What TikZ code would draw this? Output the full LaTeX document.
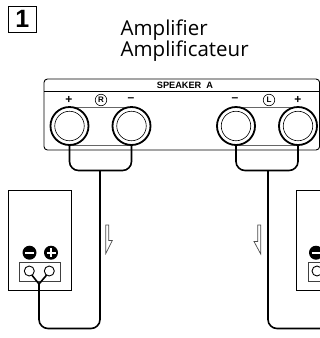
\documentclass[tikz,border=0pt]{standalone}
\usepackage{fontspec}
\setmainfont{Liberation Sans}
\newfontfamily\titlefont{Open Sans}
\tikzset{
 px/.style={x=1pt,y=-1pt},
 panel/.style={draw=black,line width=0.9pt,rounded corners=3.5pt},
 greyline/.style={draw=black!60,line width=1pt},
 cable/.style={draw=black,line width=1.6pt,line join=round,rounded corners=9pt},
 branch/.style={draw=black,line width=1.6pt},
 postouter/.style={circle,draw=black,fill=white,line width=1.8pt,minimum size=38pt,inner sep=0pt},
 postinner/.style={circle,draw=black,line width=0.6pt,minimum size=29.5pt,inner sep=0pt},
 plussign/.style={font=\bfseries\fontsize{12}{12}\selectfont,inner sep=0pt},
 ringlabel/.style={circle,draw=black,line width=0.6pt,minimum size=11.5pt,inner sep=0pt,font=\bfseries\fontsize{8}{8}\selectfont},
 termhole/.style={circle,draw=black,fill=white,line width=0.9pt,minimum size=10pt,inner sep=0pt},
 flow/.style={draw=black!70,line width=0.7pt,fill=white,line join=miter},
 title/.style={font=\titlefont\fontsize{20.5}{20.5}\selectfont,inner sep=0pt,anchor=base west},
 polarity/.style={circle,fill=black,minimum size=14pt,inner sep=0pt},
 speaker/.style={draw=black,line width=1.1pt,minimum width=63pt,minimum height=100.5pt,inner sep=0pt,anchor=north west},
 terminal/.style={draw=black!75,line width=0.9pt,minimum width=40.5pt,minimum height=19.5pt,inner sep=0pt,anchor=north west},
 markwhite/.style={draw=white,line width=2pt},
}
\begin{document}
\begin{tikzpicture}[px]
\useasboundingbox (0,0) rectangle (320,338);
\node[draw=black,line width=0.9pt,minimum width=28pt,minimum height=26pt,inner sep=0pt,font=\bfseries\fontsize{25}{25}\selectfont] (num) at (22.3,19.3) {1};
\node[title] (t1) at (120.5,35) {Amplifier};
\node[title] (t2) at (120.5,56) {Amplificateur};
% panel
\draw[panel] (44,150) -- (44,79) -- (319.6,79) -- (319.6,150) -- cycle;
\draw[panel] (44,91) -- (320,91);
\node[font=\bfseries\fontsize{9.2}{9.2}\selectfont,inner sep=0pt] (sp) at (185,85) {SPEAKER\ \ A};
\draw[greyline] (70,107.5) -- (132,107.5) (236,107.5) -- (298,107.5);
\draw[greyline] (70,145) -- (132,145) (236,145) -- (298,145);
\foreach \n/\x in {a/69.5,b/131.5,c/236,d/298}{
  \node[postouter] (\n o) at (\x,126) {};
  \node[postinner] (\n i) at (\x,126) {};
}
\node[plussign] (pa) at (69,100) {+};
\node[plussign] (ma) at (131,99.5) {–};
\node[plussign] (mb) at (235,99.5) {–};
\node[plussign] (pb) at (298,100) {+};
\node[ringlabel] (rr) at (101,100) {R};
\node[ringlabel] (rl) at (269,100) {L};
% left speaker
\node[speaker] (spk1) at (8,189.8) {};
\node[terminal] (tb1) at (19.2,261.8) {};
\node[polarity] (n1) at (29.5,252.7) {};
\node[polarity] (p1) at (51,252.7) {};
\draw[markwhite] (25,252.7) -- (34,252.7);
\draw[markwhite] (46.5,252.7) -- (55.5,252.7) (51,248.2) -- (51,257.2);
% right speaker
\node[speaker] (spk2) at (296.3,189.8) {};
\node[terminal] (tb2) at (307.5,261.8) {};
\node[polarity] (n2) at (316,252.7) {};
\draw[markwhite] (311.5,252.7) -- (320.5,252.7);
% cables
\coordinate (j1) at (39,284);
\coordinate (j2) at (100,170.5);
\coordinate (j3) at (268,170.5);
\coordinate (e3) at (322,328.5);
\draw[cable] (ao.south) -- (ao.south |- j2) -- (bo.south |- j2) -- (bo.south);
\draw[cable] (j2) -- (100,328.5) -- (39,328.5) -- (j1);
\draw[branch] (j1) -- (31,274);
\draw[branch] (j1) -- (47.5,274);
\node[termhole] (h1) at (29.3,271) {};
\node[termhole] (h2) at (49.3,271) {};
\draw[cable] (co.south) -- (co.south |- j3) -- (do.south |- j3) -- (do.south);
\draw[cable] (j3) -- (268,328.5) -- (e3);
\node[termhole] (h3) at (317,271) {};
% flow arrows
\draw[flow] (105.8,225) -- (108.8,225) -- (108.8,240.5) -- (112.3,240.5) -- (105.8,253.5) -- cycle;
\draw[flow] (260.7,225) -- (257.7,225) -- (257.7,241.5) -- (254,241.5) -- (260.7,254) -- cycle;
\end{tikzpicture}
\end{document}
